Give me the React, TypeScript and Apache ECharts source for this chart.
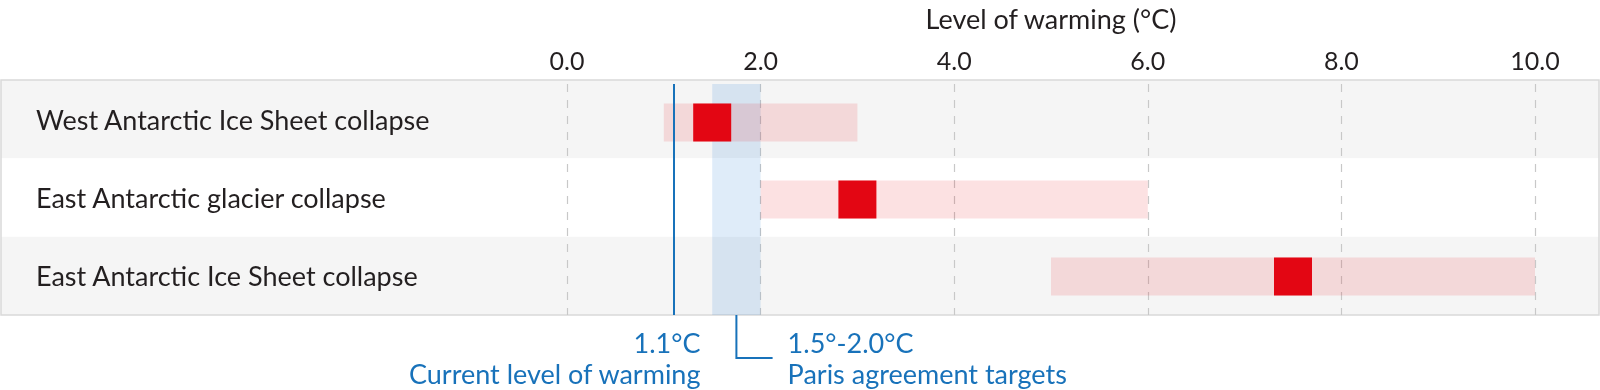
import React, { useEffect, useRef } from "react";
import * as echarts from "echarts";

const categories = [
  "West Antarctic Ice Sheet collapse",
  "East Antarctic glacier collapse",
  "East Antarctic Ice Sheet collapse",
];
const rangeLow = [1.0, 2.0, 5.0];
const rangeHigh = [3.0, 6.0, 10.0];
const central = [1.5, 3.0, 7.5];
const currentWarming = 1.1;
const parisLow = 1.5;
const parisHigh = 2.0;
const axisMin = 0;
const axisMax = 10;
const axisInterval = 2;
const axisTitle = "Level of warming (°C)";
const currentLabel = ["1.1°C", "Current level of warming"];
const parisLabel = ["1.5°-2.0°C", "Paris agreement targets"];

const FONT = "Lato";
const DARK = "#231f20";
const BLUE = "#1872ba";
const RED = "#e30613";

export default function App() {
  const ref = useRef<HTMLDivElement>(null);
  useEffect(() => {
    if (!ref.current) return;
    const chart = echarts.init(ref.current, undefined, { renderer: "svg" });
    const option: any = {
      animation: false,
      grid: [
        {
          left: 1,
          right: 1,
          top: 80,
          height: 235,
          show: true,
          borderColor: "#d9d9d9",
          borderWidth: 1.5,
          backgroundColor: "transparent",
        },
        { left: 567, right: 65, top: 80, height: 235 },
      ],
      xAxis: [
        { gridIndex: 0, type: "value", min: 0, max: 1, show: false },
        {
          gridIndex: 1,
          type: "value",
          position: "top",
          min: axisMin,
          max: axisMax,
          interval: axisInterval,
          name: axisTitle,
          nameLocation: "middle",
          nameGap: 52,
          nameTextStyle: { fontFamily: FONT, fontSize: 27, color: DARK },
          axisLine: { show: false },
          axisTick: { show: false },
          axisLabel: {
            margin: 12,
            fontFamily: FONT,
            fontSize: 25,
            color: DARK,
            formatter: (v: number) => v.toFixed(1),
          },
          splitLine: {
            show: true,
            lineStyle: { color: "#c8c8c8", type: [8, 8], width: 1.2 },
          },
        },
      ],
      yAxis: [
        {
          gridIndex: 0,
          type: "category",
          data: categories,
          inverse: true,
          z: -1,
          axisLine: { show: false },
          axisTick: { show: false },
          axisLabel: {
            inside: true,
            margin: 35,
            fontFamily: FONT,
            fontSize: 27,
            color: DARK,
          },
          splitLine: { show: false },
          splitArea: {
            show: true,
            areaStyle: { color: ["#f5f5f5", "#ffffff"] },
          },
        },
        {
          gridIndex: 1,
          type: "category",
          data: categories,
          inverse: true,
          show: false,
        },
      ],
      series: [
        {
          name: "base",
          type: "bar",
          xAxisIndex: 1,
          yAxisIndex: 1,
          stack: "range",
          barWidth: 38,
          silent: true,
          itemStyle: { color: "transparent" },
          data: rangeLow,
          z: 1,
          markLine: {
            silent: true,
            symbol: "none",
            label: { show: false },
            lineStyle: { color: BLUE, width: 2, type: "solid" },
            data: [{ xAxis: currentWarming }],
          },
          markArea: {
            silent: true,
            itemStyle: { color: "rgba(30,120,210,0.14)" },
            data: [[{ xAxis: parisLow }, { xAxis: parisHigh }]],
          },
        },
        {
          name: "range",
          type: "bar",
          xAxisIndex: 1,
          yAxisIndex: 1,
          stack: "range",
          barWidth: 38,
          itemStyle: { color: "rgba(227,6,19,0.12)" },
          data: rangeHigh.map((h, i) => +(h - rangeLow[i]).toFixed(3)),
          z: 3,
        },
        {
          name: "central",
          type: "scatter",
          xAxisIndex: 1,
          yAxisIndex: 1,
          symbol: "rect",
          symbolSize: [38, 38],
          itemStyle: { color: RED, opacity: 1 },
          data: central.map((v, i) => [v, i]),
          z: 4,
        },
      ],
    };
    chart.setOption(option);

    const px = (v: number) =>
      chart.convertToPixel({ xAxisIndex: 1 } as any, v) as unknown as number;
    const xCur = px(currentWarming);
    const xMid = px((parisLow + parisHigh) / 2);
    const xHigh = px(parisHigh);
    const textStyle = (text: string, align: string) => ({
      text,
      fill: BLUE,
      font: `27px ${FONT}`,
      align,
      verticalAlign: "middle",
    });
    chart.setOption({
      graphic: [
        { type: "text", x: xCur + 27, y: 342, style: textStyle(currentLabel[0], "right") },
        { type: "text", x: xCur + 27, y: 373, style: textStyle(currentLabel[1], "right") },
        {
          type: "polyline",
          shape: { points: [[xMid, 315], [xMid, 358], [xHigh + 12, 358]] },
          style: { stroke: BLUE, lineWidth: 2, fill: "none" },
        },
        { type: "text", x: xHigh + 27, y: 342, style: textStyle(parisLabel[0], "left") },
        { type: "text", x: xHigh + 27, y: 373, style: textStyle(parisLabel[1], "left") },
      ],
    });

    return () => chart.dispose();
  }, []);
  return (
    <div
      ref={ref}
      style={{ position: "fixed", left: 0, top: 0, width: 1600, height: 390 }}
    />
  );
}
